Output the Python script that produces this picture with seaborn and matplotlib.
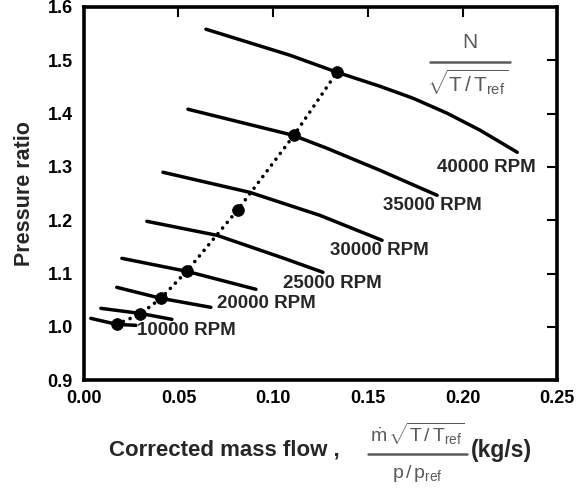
import numpy as np
import pandas as pd
import seaborn as sns
import matplotlib.pyplot as plt

# Speed lines: corrected mass flow (kg/s), pressure ratio
speeds = [40000, 35000, 30000, 25000, 20000, 15000, 10000, 5000]
flow = {
    40000: [0.0645, 0.1089, 0.1337, 0.1564, 0.1739, 0.1919, 0.2093, 0.2289],
    35000: [0.0550, 0.1105, 0.1284, 0.1564, 0.1866],
    30000: [0.0418, 0.0877, 0.1247, 0.1575],
    25000: [0.0333, 0.0703, 0.1057, 0.1263],
    20000: [0.0201, 0.0544, 0.0909],
    15000: [0.0174, 0.0407, 0.0671],
    10000: [0.0090, 0.0296, 0.0465],
    5000: [0.0037, 0.0174, 0.0275],
}
ratio = {
    40000: [1.5582, 1.5094, 1.4775, 1.4512, 1.4287, 1.4006, 1.3687, 1.3274],
    35000: [1.4081, 1.3593, 1.3349, 1.2936, 1.2467],
    30000: [1.2899, 1.2522, 1.2091, 1.1623],
    25000: [1.1979, 1.1717, 1.1285, 1.1023],
    20000: [1.1285, 1.1041, 1.0704],
    15000: [1.0741, 1.0535, 1.0366],
    10000: [1.0347, 1.0253, 1.0141],
    5000: [1.0159, 1.0047, 1.0028],
}

# operating points joined by the dotted line
op_flow = [0.0174, 0.0296, 0.0407, 0.0544, 0.0814, 0.1110, 0.1337]
op_ratio = [1.0047, 1.0235, 1.0535, 1.1045, 1.2200, 1.3594, 1.4775]

# speed labels and where they sit
label_text = ['40000 RPM', '35000 RPM', '30000 RPM', '25000 RPM', '20000 RPM', '10000 RPM']
label_x = [0.1866, 0.1580, 0.1300, 0.1052, 0.0703, 0.0280]
label_y = [1.299, 1.228, 1.1435, 1.0817, 1.044, 0.9935]

x_ticks = [0.00, 0.05, 0.10, 0.15, 0.20, 0.25]
y_ticks = [0.9, 1.0, 1.1, 1.2, 1.3, 1.4, 1.5, 1.6]

rows = []
for s in speeds:
    for fx, fy in zip(flow[s], ratio[s]):
        rows.append({'rpm': s, 'flow': fx, 'ratio': fy})
df = pd.DataFrame(rows)
ops = pd.DataFrame({'flow': op_flow, 'ratio': op_ratio})

sns.set_style('white')
plt.rcParams['font.family'] = ['Liberation Sans', 'DejaVu Sans']
plt.rcParams['mathtext.fontset'] = 'custom'
plt.rcParams['mathtext.rm'] = 'Liberation Sans'
plt.rcParams['mathtext.it'] = 'Liberation Sans'
plt.rcParams['mathtext.bf'] = 'Liberation Sans:bold'

W, H = 578, 495
fig = plt.figure(figsize=(W / 100, H / 100), dpi=100)
ax = fig.add_axes([0.145, 0.232, 0.819, 0.754])

sns.lineplot(data=df, x='flow', y='ratio', units='rpm', estimator=None, sort=False,
             color='black', linewidth=2.5, ax=ax)
sns.lineplot(data=ops, x='flow', y='ratio', sort=False, color='black',
             linewidth=2.6, linestyle=(0, (0.01, 2.0)), dash_capstyle='round', ax=ax)
sns.scatterplot(data=ops, x='flow', y='ratio', color='black', s=70,
                edgecolor='black', zorder=5, ax=ax)

for t, lx, ly in zip(label_text, label_x, label_y):
    ax.text(lx, ly, t, fontsize=13.5, fontweight='bold', ha='left', va='center')

gray = '#5a5a5a'


def fpix(x, y):
    # pixel position (from top-left) -> figure fraction
    return x / W, 1 - y / H


def frac_bar(x0, x1, y):
    (a, b), (c, _) = fpix(x0, y), fpix(x1, y)
    fig.add_artist(plt.Line2D([a, c], [b, b], transform=fig.transFigure,
                              color=gray, linewidth=1.8))


# N / sqrt(T/Tref) in the top right
fig.text(*fpix(470, 42), 'N', fontsize=15, color=gray, ha='center', va='center')
frac_bar(430, 510, 62)
fig.text(*fpix(468, 82), r'$\sqrt{\mathrm{T\,/\,T_{ref}}}$', fontsize=15, color=gray,
         ha='center', va='center')

ax.set_xlim(0, 0.25)
ax.set_ylim(0.9, 1.6)
ax.set_xticks(x_ticks)
ax.set_yticks(y_ticks)
ax.set_xticklabels(['%.2f' % v for v in x_ticks])
ax.set_yticklabels(['%.1f' % v for v in y_ticks])
ax.tick_params(direction='in', length=7, width=1.5, top=True, right=True, colors='black')
ax.tick_params(axis='x', pad=7)
ax.tick_params(axis='y', pad=8)
plt.setp(ax.get_xticklabels() + ax.get_yticklabels(), fontsize=13, fontweight='bold')
for _, sp in ax.spines.items():
    sp.set_linewidth(2.6)
    sp.set_color('black')

ax.set_xlabel('')
ax.set_ylabel('Pressure ratio', fontsize=15.5, fontweight='bold')
ax.yaxis.set_label_coords(-0.104, 0.5)

# x label with the corrected flow fraction
fig.text(*fpix(109, 450), 'Corrected mass flow ,', fontsize=16, fontweight='bold',
         ha='left', va='center')
fig.text(*fpix(417, 434), r'$\dot{\mathrm{m}}\,\sqrt{\mathrm{T\,/\,T_{ref}}}$',
         fontsize=14, color=gray, ha='center', va='center')
frac_bar(368, 467, 454)
fig.text(*fpix(417, 474), r'$\mathrm{p\,/\,p_{ref}}$', fontsize=14, color=gray,
         ha='center', va='center')
fig.text(*fpix(471, 450), '(kg/s)', fontsize=16.5, fontweight='bold', ha='left', va='center')

fig.savefig('out.png', dpi=100)
